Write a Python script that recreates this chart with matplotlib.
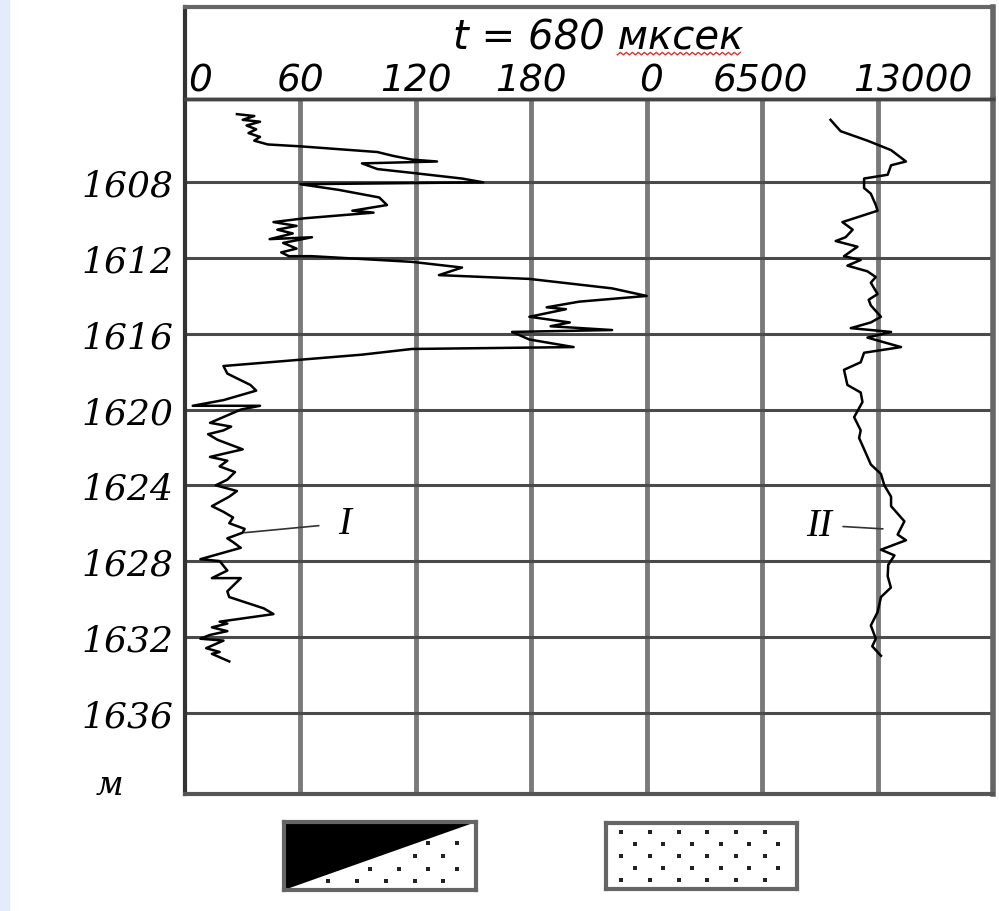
import numpy as np
import matplotlib
matplotlib.use("Agg")
import matplotlib.pyplot as plt
from matplotlib import transforms
from matplotlib.patches import Polygon, Rectangle
from matplotlib.lines import Line2D

# curve I (0..240 scale), depth in metres
depth_1 = [1604.4, 1604.5, 1604.7, 1604.8, 1605.0, 1605.2, 1605.4, 1605.6, 1605.8, 1606.0,
           1606.1, 1606.4, 1606.6, 1606.8, 1606.9, 1607.0, 1607.3, 1607.5, 1607.8, 1608.0,
           1608.1, 1608.4, 1608.8, 1609.2, 1609.5, 1609.6, 1609.9, 1610.1, 1610.3, 1610.5,
           1610.7, 1611.0, 1610.9, 1611.2, 1611.5, 1611.7, 1611.9, 1611.9, 1612.2, 1612.5,
           1612.9, 1613.1, 1613.6, 1614.0, 1614.3, 1614.6, 1614.7, 1615.1, 1615.4, 1615.6,
           1615.8, 1615.9, 1616.3, 1616.7, 1616.8, 1617.1, 1617.7, 1618.1, 1618.7, 1619.0,
           1619.5, 1619.8, 1619.8, 1620.0, 1620.7, 1620.9, 1621.1, 1621.3, 1621.6, 1622.1,
           1622.5, 1622.7, 1623.0, 1623.3, 1623.7, 1624.0, 1624.3, 1624.6, 1625.1, 1625.4,
           1625.7, 1626.0, 1626.3, 1626.5, 1626.8, 1627.0, 1627.3, 1627.9, 1628.0, 1628.5,
           1628.9, 1628.9, 1629.6, 1629.9, 1630.5, 1630.8, 1631.2, 1631.3, 1631.5, 1631.7,
           1631.9, 1632.1, 1632.2, 1632.6, 1632.8, 1632.9, 1633.3]
value_1 = [27, 36, 30, 39, 32, 37, 33, 39, 36, 43,
           60, 100, 108, 118, 131, 92, 100, 118, 144, 155,
           60, 80, 101, 105, 87, 98, 62, 46, 58, 48,
           56, 44, 66, 51, 58, 50, 54, 66, 118, 144,
           132, 179, 222, 240, 205, 188, 198, 179, 200, 190,
           222, 170, 179, 202, 118, 92, 20, 22, 34, 37,
           20, 4, 39, 29, 13, 24, 20, 12, 17, 30,
           13, 22, 18, 26, 22, 16, 27, 23, 14, 20,
           25, 23, 31, 30, 22, 25, 29, 8, 18, 22,
           14, 29, 22, 23, 41, 46, 18, 22, 14, 22,
           13, 8, 20, 11, 18, 14, 23]

# curve II (0..13000 scale)
depth_2 = [1604.7, 1605.3, 1605.8, 1606.3, 1606.9, 1607.1, 1607.6, 1607.8, 1608.3, 1608.6,
           1609.2, 1609.5, 1610.1, 1610.5, 1610.9, 1611.1, 1611.4, 1611.9, 1612.1, 1612.4,
           1612.7, 1613.0, 1613.3, 1613.9, 1614.2, 1614.5, 1615.1, 1615.4, 1615.7, 1615.9,
           1616.2, 1616.7, 1617.0, 1617.5, 1617.9, 1618.7, 1619.1, 1619.6, 1620.4, 1621.1,
           1621.5, 1622.3, 1622.9, 1623.4, 1624.0, 1624.6, 1625.1, 1625.9, 1626.6, 1626.9,
           1627.4, 1627.7, 1628.2, 1628.8, 1629.4, 1629.9, 1630.7, 1631.4, 1632.1, 1632.5,
           1633.0]
value_2 = [10350, 10920, 12430, 13760, 14600, 13760, 13570, 12240, 12240, 12620,
           12900, 13000, 11020, 11600, 11200, 10640, 11870, 11110, 12050, 11300,
           12430, 12900, 12620, 13000, 12500, 12620, 13190, 12620, 11490, 13760,
           12430, 14320, 12240, 12050, 11110, 11300, 12050, 12150, 11680, 12050,
           11960, 12340, 12620, 13190, 13380, 13760, 13760, 14510, 14130, 14600,
           13190, 13950, 13600, 13570, 13750, 13190, 13000, 12620, 12900, 12700,
           13190]

depth_ticks = [1608, 1612, 1616, 1620, 1624, 1628, 1632, 1636]
scale_1 = [0, 60, 120, 180]
scale_2 = [0, 6500, 13000]

W, H = 999, 912
fig = plt.figure(figsize=(W / 100, H / 100), dpi=100)
fig.patches.append(Rectangle((0, 0), 9 / W, 1, transform=fig.transFigure,
                             color="#e4ecfb", zorder=0))

ax = fig.add_axes([185 / W, 1 - 795 / H, 808 / W, 695 / H])
ax.set_xlim(0, 420)
ax.set_ylim(1640.3, 1603.6)
ax.set_xticks(np.arange(60, 420, 60))
ax.set_yticks(depth_ticks)
ax.set_axisbelow(True)
ax.xaxis.grid(True, color="#7a7a7a", lw=3.5)
ax.yaxis.grid(True, color="#4a4a4a", lw=2.2)
ax.tick_params(axis="x", length=0, labelbottom=False)
ax.tick_params(axis="y", length=0, pad=8)
ax.set_yticklabels([str(d) for d in depth_ticks], family="DejaVu Serif",
                   style="italic", fontsize=26)
for side, col, lw in [("left", "#333333", 3), ("top", "#444444", 2.5),
                      ("right", "#666666", 4), ("bottom", "#555555", 3)]:
    ax.spines[side].set_color(col)
    ax.spines[side].set_linewidth(lw)

ax.plot(value_1, depth_1, color="black", lw=1.8)
ax.text(-0.093, 1639.8, "м", transform=transforms.blended_transform_factory(ax.transAxes, ax.transData),
        ha="center", va="center", family="DejaVu Serif", style="italic", fontsize=24)

ax2 = ax.twiny()
ax2.set_xlim(-26000, 19500)
ax2.set_xticks([])
ax2.plot(value_2, depth_2, color="black", lw=1.8)
for s in ax2.spines.values():
    s.set_visible(False)

ax.annotate("I", xy=(31, 1626.5), xytext=(83, 1626.0), ha="center", va="center",
            family="Liberation Serif", style="italic", fontsize=28,
            arrowprops=dict(arrowstyle="-", color="#333333", lw=1.2, shrinkA=12, shrinkB=0))
ax2.annotate("II", xy=(13300, 1626.3), xytext=(9700, 1626.1), ha="center", va="center",
             family="Liberation Serif", style="italic", fontsize=28,
             arrowprops=dict(arrowstyle="-", color="#333333", lw=1.2, shrinkA=6, shrinkB=0))

# header
hx = fig.add_axes([185 / W, 1 - 100 / H, 808 / W, 92 / H], facecolor="none")
hx.set_xticks([])
hx.set_yticks([])
for side, col, lw in [("left", "#333333", 3), ("top", "#666666", 3),
                      ("right", "#666666", 4), ("bottom", "#444444", 2.5)]:
    hx.spines[side].set_color(col)
    hx.spines[side].set_linewidth(lw)

title = hx.text(0.511, 0.67, "t = 680 мксек", ha="center", va="center",
                family="DejaVu Sans", style="italic", fontsize=29)

lab_font = dict(family="DejaVu Sans", style="italic", fontsize=27, va="center")
tr1 = transforms.blended_transform_factory(ax.transData, hx.transAxes)
tr2 = transforms.blended_transform_factory(ax2.transData, hx.transAxes)
for v in scale_1:
    if v == 0:
        hx.text(v, 0.2, "0", ha="left",
                transform=transforms.offset_copy(tr1, fig, x=3, units="dots"), **lab_font)
    else:
        hx.text(v, 0.2, str(v), ha="center", transform=tr1, **lab_font)
offs = {0: 4, 6500: -2, 13000: 35}
for v in scale_2:
    hx.text(v, 0.2, str(v), ha="center",
            transform=transforms.offset_copy(tr2, fig, x=offs[v], units="dots"), **lab_font)

# legend boxes
def dots(axb, lower_only):
    for i in range(5):
        y = 0.13 + 0.185 * i
        xs = np.arange(0.08 + (i % 2) * 0.07, 0.97, 0.15)
        if lower_only:
            xs = xs[xs > y + 0.06]
        axb.scatter(xs, np.full(len(xs), y), s=7, marker="s", color="#222222", lw=0)

b1 = fig.add_axes([284 / W, 1 - 891 / H, 192 / W, 68 / H])
b1.add_patch(Polygon([(0, 0), (0, 1), (1, 1)], closed=True, color="black", lw=0))
dots(b1, True)
b2 = fig.add_axes([606 / W, 1 - 890 / H, 191 / W, 66 / H])
dots(b2, False)
for b in (b1, b2):
    b.set_xlim(0, 1)
    b.set_ylim(0, 1)
    b.set_xticks([])
    b.set_yticks([])
    for s in b.spines.values():
        s.set_color("#666666")
        s.set_linewidth(3)

# red wavy underline under the unit word, as in the source scan
fig.canvas.draw()
renderer = fig.canvas.get_renderer()
bb = title.get_window_extent(renderer)
wpx, _, _ = renderer.get_text_width_height_descent("мксек", title.get_fontproperties(), ismath=False)
x0, x1 = bb.x1 - wpx, bb.x1
xs = np.arange(x0, x1, 3)
ys = bb.y0 + 2 + 2.5 * (np.arange(len(xs)) % 2)
fig.add_artist(Line2D(xs, ys, transform=transforms.IdentityTransform(), color="#e03030", lw=1))

fig.savefig("out.png", dpi=100)
